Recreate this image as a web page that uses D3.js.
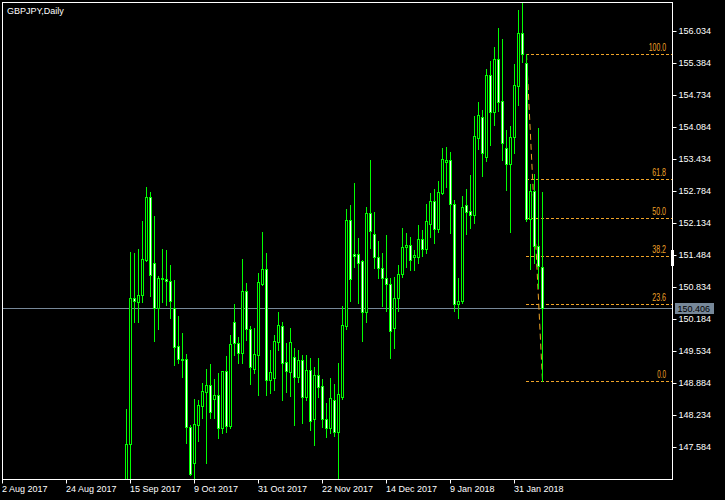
<!DOCTYPE html>
<html><head><meta charset="utf-8">
<script src="https://cdn.jsdelivr.net/npm/d3@7"></script>
<style>
body{margin:0;background:#000;}
svg{display:block;font-family:"Liberation Sans",Arial,sans-serif;}
</style>
</head><body>
<svg id="c" width="725" height="500"></svg>
<script>
// ---- data (GBPJPY daily, bar index 0 = 2 Aug 2017) ----
const openP=[145.20,145.55,144.70,144.30,144.10,143.20,142.40,142.00,141.60,142.60,142.90,142.10,140.90,140.80,140.30,140.80,140.10,140.20,140.90,139.90,140.20,141.40,142.80,142.70,141.90,141.10,141.70,142.00,142.50,144.40,145.80,
146.40,147.645,150.606,150.537,150.667,151.383,152.655,151.316,150.403,151.024,150.998,150.957,150.403,149.639,149.369,149.369,147.990,147.272,148.036,148.428,
148.712,148.848,148.558,148.639,147.969,149.132,148.016,150.132,149.694,149.503,150.754,149.978,149.166,149.456,150.896,151.195,148.949,148.984,149.726,150.051,
149.308,149.117,149.410,149.004,149.355,148.610,149.152,148.158,149.051,148.821,148.152,147.969,148.543,147.900,148.610,150.051,152.195,151.499,151.499,151.363,
150.322,152.330,151.910,151.438,151.215,151.012,150.890,149.998,150.606,151.093,151.641,151.681,151.438,151.438,151.809,151.600,152.107,152.580,152.018,152.748,
153.377,153.406,152.513,150.485,150.552,152.499,152.383,152.296,153.852,154.290,153.466,155.136,154.391,155.454,154.608,153.649,153.330,153.872,154.919,155.982,
155.385,152.209,152.789,151.673,151.235];
const highP=[145.90,145.75,145.10,144.55,144.30,143.40,142.70,142.30,142.80,143.50,143.10,142.30,141.30,141.00,141.20,141.00,140.60,141.00,141.10,140.50,141.60,143.00,143.60,142.90,142.10,141.90,142.60,142.90,144.60,146.10,146.60,
148.361,151.545,151.519,151.606,152.174,152.870,152.763,152.276,151.059,151.606,151.586,151.282,150.978,150.247,149.896,149.477,148.036,148.558,148.543,148.882,
149.166,149.268,148.963,149.085,149.140,149.436,149.862,150.491,149.827,151.403,150.911,150.044,150.004,151.119,151.951,151.525,149.558,149.862,150.335,150.132,
149.700,150.004,149.598,149.558,149.456,149.456,149.389,149.219,149.395,148.969,148.477,148.984,148.868,149.300,150.450,152.412,152.499,152.951,151.823,151.383,
152.464,153.412,152.363,151.769,151.519,151.890,151.012,151.044,151.282,152.026,151.925,151.844,151.586,152.093,151.992,152.519,152.736,152.817,152.986,153.649,
153.669,153.568,152.600,151.018,152.687,152.817,153.107,154.304,154.594,154.426,155.251,155.420,155.710,156.095,155.866,154.020,154.101,155.359,156.454,156.602,
155.562,152.925,153.128,154.067,152.756];
const lowP=[144.80,144.60,144.00,143.90,142.90,141.70,141.80,141.30,141.50,142.20,141.80,140.60,139.90,140.00,140.20,139.80,139.60,139.90,139.50,138.80,140.00,141.20,142.00,141.60,140.80,140.90,141.30,141.10,142.40,144.20,145.20,
145.90,146.900,150.132,150.132,150.537,151.369,150.653,149.746,149.978,150.525,150.470,150.201,149.253,149.288,149.016,147.665,147.022,146.950,147.718,148.172,
147.272,148.172,148.172,147.767,147.880,147.900,147.969,149.466,149.288,149.294,149.760,148.868,149.091,148.645,150.876,148.645,148.692,148.746,149.558,148.543,
148.712,148.625,148.036,148.908,148.071,148.543,147.935,147.631,148.610,148.002,147.799,147.880,147.813,146.967,148.558,149.978,150.558,151.247,150.517,149.740,
150.132,151.633,151.227,151.012,150.456,150.355,149.401,149.604,150.349,151.044,151.247,151.180,151.180,151.328,151.464,151.531,151.856,151.734,151.957,152.722,
152.870,151.937,150.355,150.201,150.505,151.910,152.038,152.140,153.629,153.087,153.397,153.716,154.122,154.406,153.412,152.803,151.957,153.560,154.527,155.406,
152.184,151.195,151.316,150.809,148.928];
const closeP=[145.55,144.70,144.30,144.10,143.20,142.40,142.00,141.60,142.60,142.90,142.10,140.90,140.80,140.30,140.80,140.10,140.20,140.90,139.90,140.20,141.40,142.80,142.70,141.90,141.10,141.70,142.00,142.50,144.40,145.80,146.40,
147.645,150.606,150.552,150.673,151.397,152.655,151.073,150.403,151.012,150.992,150.957,150.558,149.625,149.369,149.360,147.990,147.042,148.051,148.442,148.726,
148.848,148.306,148.645,147.969,149.132,148.022,149.679,149.694,149.503,150.754,149.978,149.207,149.470,150.931,151.195,148.949,149.105,149.740,150.065,149.300,
149.132,149.714,149.004,149.355,148.610,149.152,148.124,149.051,148.813,148.152,147.969,148.578,147.900,148.659,150.065,152.195,150.992,151.470,151.316,150.322,
152.330,151.977,151.438,151.215,151.012,150.890,149.949,150.606,151.093,151.641,151.681,151.383,151.479,151.809,151.600,152.174,152.580,152.018,152.763,153.426,
153.406,152.513,150.491,150.552,152.452,152.363,152.296,153.898,154.324,153.548,155.136,154.391,155.454,154.594,153.763,153.330,153.884,154.933,155.982,155.556,
152.209,152.789,151.673,151.268,150.406];
const dateTickIdx=[0,16,32,48,64,80,96,112,128];
const dateTickLabels=["2 Aug 2017","24 Aug 2017","15 Sep 2017","9 Oct 2017","31 Oct 2017","22 Nov 2017","14 Dec 2017","9 Jan 2018","31 Jan 2018"];
const priceTicks=[156.034,155.384,154.734,154.084,153.434,152.784,152.134,151.484,150.834,150.184,149.534,148.884,148.234,147.584];
const fibLevels=[0,23.6,38.2,50,61.8,100];
const fibLabels=["0.0","23.6","38.2","50.0","61.8","100.0"];
const fibHigh=155.561, fibLow=148.928;
const fibFromIdx=131, fibToIdx=135;
const lastPrice=150.406;
const title="GBPJPY,Daily";

// ---- layout ----
const L=2,T=2,R=672,B=479;
const svg=d3.select("#c");
svg.append("rect").attr("width",725).attr("height",500).attr("fill","#000");

const x=d3.scaleLinear().domain([0,167.5]).range([2,672]).interpolate(d3.interpolateRound);
const y=d3.scaleLinear().domain([147.584,156.034]).range([447.3,30.7]);
const yR=y.copy().interpolate(d3.interpolateRound);

svg.append("clipPath").attr("id","clip").append("rect")
  .attr("x",L+1).attr("y",T+1).attr("width",R-L-1).attr("height",B-T-1);
const plot=svg.append("g").attr("clip-path","url(#clip)");

const FIB="#F0A428";
// price (bid) line
plot.append("rect").attr("x",L).attr("y",yR(lastPrice)).attr("width",R-L).attr("height",1).attr("fill","#778899");

// fibo
const fg=plot.append("g");
fibLevels.forEach((lv,k)=>{
  const p=fibLow+lv/100*(fibHigh-fibLow);
  const yy=yR(p)+0.5;
  fg.append("line").attr("x1",x(fibFromIdx)).attr("x2",R).attr("y1",yy).attr("y2",yy)
    .attr("stroke",FIB).attr("stroke-width",1).attr("stroke-dasharray","3,2");
  const tl=[8.7,13.7,13.7,13.7,13.7,17.3][k];
  fg.append("text").attr("x",666).attr("y",yy-3.5).attr("text-anchor","end")
    .attr("font-size",10).attr("fill",FIB).attr("textLength",tl).attr("lengthAdjust","spacingAndGlyphs")
    .text(fibLabels[k]);
});
fg.append("line").attr("x1",x(fibFromIdx)+0.5).attr("y1",yR(fibHigh)).attr("x2",x(fibToIdx)+0.5).attr("y2",yR(fibLow))
  .attr("stroke",FIB).attr("stroke-width",1).attr("stroke-dasharray","6,4");

// candles
const cg=plot.append("g");
openP.forEach((o,i)=>{
  const c=closeP[i], cx=x(i);
  const yh=yR(highP[i]), yl=yR(lowP[i]);
  const yo=yR(o), yc=yR(c);
  const top=Math.min(yo,yc), bot=Math.max(yo,yc);
  cg.append("rect").attr("x",cx).attr("y",yh).attr("width",1).attr("height",Math.max(1,yl-yh+1)).attr("fill","#00FF00");
  cg.append("rect").attr("x",cx-1).attr("y",top).attr("width",3).attr("height",bot-top+1).attr("fill","#00FF00");
  if(bot-top>=2){
    cg.append("rect").attr("x",cx).attr("y",top+1).attr("width",1).attr("height",bot-top-1)
      .attr("fill",c<o?"#FFFFFF":"#000000");
  }
});

// frame
svg.append("rect").attr("x",L+0.5).attr("y",T+0.5).attr("width",R-L).attr("height",B-T)
  .attr("fill","none").attr("stroke","#fff").attr("stroke-width",1);
// small marker on the price scale border
svg.append("rect").attr("x",R-1).attr("y",250).attr("width",3).attr("height",16).attr("fill","#fff");

// title
svg.append("text").attr("x",7).attr("y",13.5).attr("font-size",9).attr("fill","#fff").text(title);

// right price axis
const ya=svg.append("g").attr("transform",`translate(${R+0.5},0)`)
  .call(d3.axisRight(yR).tickValues(priceTicks).tickFormat(d=>d.toFixed(3)).tickSize(4).tickPadding(2));
ya.select(".domain").remove();
ya.selectAll("line").attr("stroke","#fff");
ya.selectAll("text").attr("fill","#fff").attr("font-size",9).attr("font-family","Liberation Sans, Arial, sans-serif");

// bottom date axis
const xa=svg.append("g").attr("transform",`translate(0,${B+0.5})`)
  .call(d3.axisBottom(x).tickValues(dateTickIdx).tickFormat((d,k)=>dateTickLabels[k]).tickSize(4).tickPadding(2));
xa.select(".domain").remove();
xa.selectAll("line").attr("stroke","#fff");
xa.selectAll("text").attr("fill","#fff").attr("font-size",9).attr("text-anchor","start")
  .attr("font-family","Liberation Sans, Arial, sans-serif").attr("dx",-0.5);

// last price label
const ly=yR(lastPrice);
svg.append("rect").attr("x",675).attr("y",ly-5).attr("width",39).attr("height",11).attr("fill","#778899");
svg.append("text").attr("x",677.5).attr("y",ly+3.5).attr("font-size",9).attr("fill","#000").text(lastPrice.toFixed(3));
</script>
</body></html>
